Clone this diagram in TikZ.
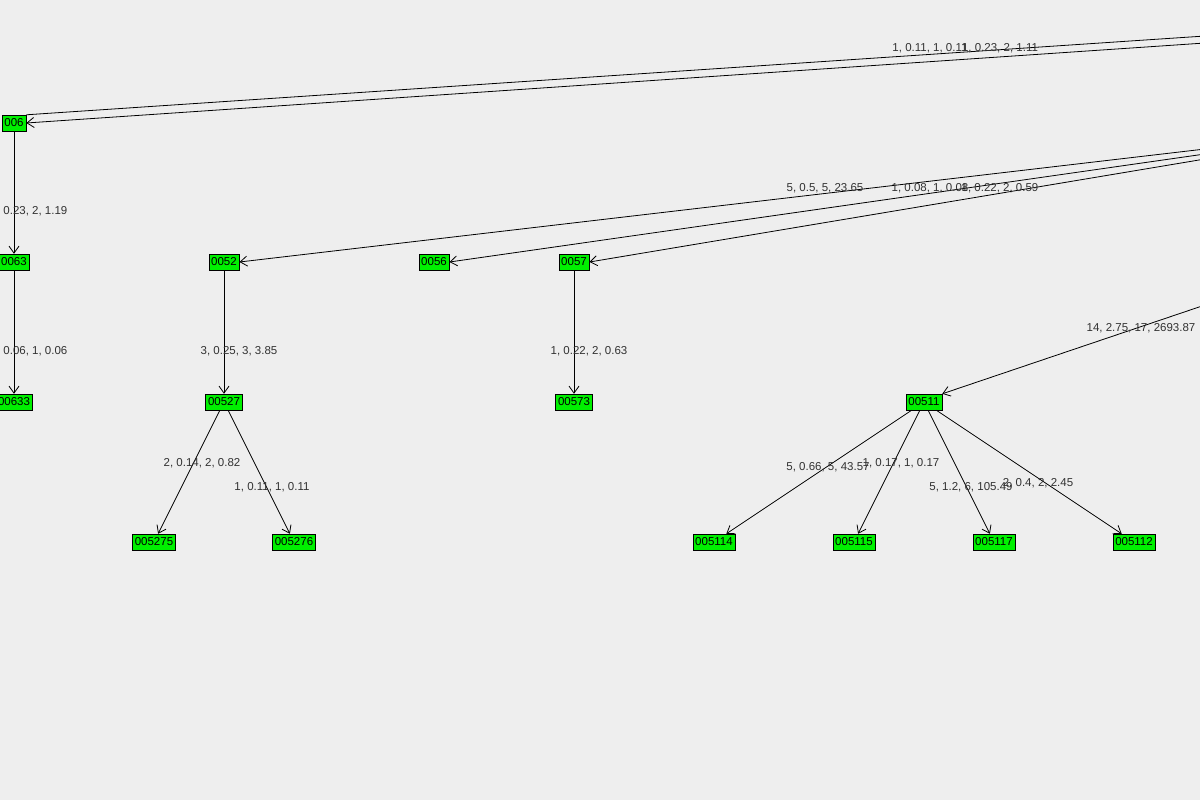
\documentclass[tikz,border=0pt]{standalone}
\usepackage{fontspec}
\setmainfont{Liberation Sans}
\usetikzlibrary{arrows.meta}
\definecolor{bgc}{RGB}{238,238,238}
\definecolor{ndc}{RGB}{0,240,0}
\definecolor{txc}{RGB}{50,50,50}
\begin{document}
\begin{tikzpicture}[x=1pt,y=-1pt,
  nd/.style={draw=black,fill=ndc,inner xsep=2.5pt,inner ysep=1pt,minimum height=16pt,font=\fontsize{11.5}{12}\selectfont},
  lb/.style={font=\fontsize{11.5}{12}\selectfont,text=txc},
  ar/.style={draw=black,line width=0.8pt,-{Straight Barb[length=7pt,width=10pt]}},
  ln/.style={draw=black,line width=0.8pt}]
\fill[bgc] (0,0) rectangle (1200,800);
\useasboundingbox (0,0) rectangle (1200,800);
\node[nd] (n006) at (14,123) {006};
\node[nd] (n0063) at (14,262) {0063};
\node[nd] (n00633) at (14,402) {00633};
\node[nd] (n0052) at (224,262) {0052};
\node[nd] (n0056) at (434,262) {0056};
\node[nd] (n0057) at (574,262) {0057};
\node[nd] (n00527) at (224,402) {00527};
\node[nd] (n00573) at (574,402) {00573};
\node[nd] (n00511) at (924,402) {00511};
\node[nd] (n005275) at (154,542) {005275};
\node[nd] (n005276) at (294,542) {005276};
\node[nd] (n005114) at (714,542) {005114};
\node[nd] (n005115) at (854,542) {005115};
\node[nd] (n005117) at (994,542) {005117};
\node[nd] (n005112) at (1134,542) {005112};
\coordinate (o1) at (1205,36);
\coordinate (o2) at (1205,43);
\coordinate (o3) at (1205,149);
\coordinate (o4) at (1205,154);
\coordinate (o5) at (1205,159);
\coordinate (o6) at (1205,305);
\draw[ln] (n006.north east) -- (o1);
\draw[ar] (o2) -- (n006.east);
\draw[ar] (o3) -- (n0052.east);
\draw[ar] (o4) -- (n0056.east);
\draw[ar] (o5) -- (n0057.east);
\draw[ar] (o6) -- (n00511.north east);
\draw[ar] (n006) -- (n0063);
\draw[ar] (n0063) -- (n00633);
\draw[ar] (n0052) -- (n00527);
\draw[ar] (n0057) -- (n00573);
\draw[ar] (n00527) -- (n005275);
\draw[ar] (n00527) -- (n005276);
\draw[ar] (n00511) -- (n005114);
\draw[ar] (n00511) -- (n005115);
\draw[ar] (n00511) -- (n005117);
\draw[ar] (n00511) -- (n005112);
\node[lb] at (930,48) {1, 0.11, 1, 0.11};
\node[lb] at (1000,48) {1, 0.23, 2, 1.11};
\node[lb] at (825,188) {5, 0.5, 5, 23.65};
\node[lb] at (930,188) {1, 0.08, 1, 0.08};
\node[lb] at (1000,188) {1, 0.22, 2, 0.59};
\node[lb] at (1141,328) {14, 2.75, 17, 2693.87};
\node[lb] at (29,211) {1, 0.23, 2, 1.19};
\node[lb] at (29,351) {1, 0.06, 1, 0.06};
\node[lb] at (239,351) {3, 0.25, 3, 3.85};
\node[lb] at (589,351) {1, 0.22, 2, 0.63};
\node[lb] at (202,463) {2, 0.14, 2, 0.82};
\node[lb] at (272,487) {1, 0.11, 1, 0.11};
\node[lb] at (828,467) {5, 0.66, 5, 43.57};
\node[lb] at (901,463) {1, 0.17, 1, 0.17};
\node[lb] at (971,487) {5, 1.2, 6, 105.49};
\node[lb] at (1038,483) {2, 0.4, 2, 2.45};
\end{tikzpicture}
\end{document}
